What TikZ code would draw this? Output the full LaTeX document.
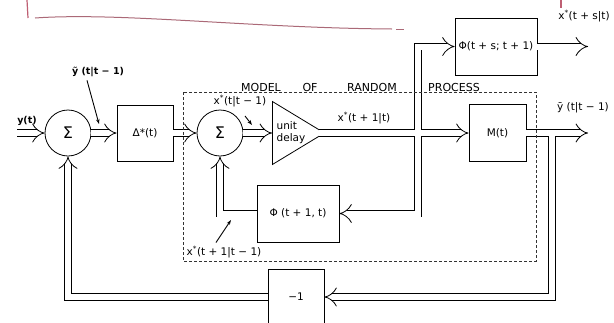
\documentclass[tikz,border=0pt]{standalone}
\usepackage{fontspec}
\setsansfont{DejaVu Sans}
\usetikzlibrary{arrows.meta,shapes.geometric}
\definecolor{scribble}{RGB}{190,95,115}

\begin{document}
\begin{tikzpicture}[
	%Environment config
	x=1pt, y=-1pt,
	font=\sffamily\fontsize{10.5}{12}\selectfont,
	line join=miter,
	%Environment styles
	BlockCfg/.style={
		draw,
		line width=0.8pt,
		inner sep=0pt,
		minimum width=56pt,
		minimum height=56pt
	},
	SumCfg/.style={draw, circle, line width=0.8pt, inner sep=0pt, minimum size=46pt,
		font=\sffamily\fontsize{16}{16}\selectfont},
	PipeCfg/.style={double, double distance=6pt, line width=0.8pt, -{Implies[scale=0.6]}},
	PointerCfg/.style={line width=0.9pt, -{Stealth[length=5pt,width=3.5pt]}},
	TitleCfg/.style={font=\sffamily\fontsize{11}{12}\selectfont, anchor=base, inner sep=1pt}
	]
	\useasboundingbox (0,0) rectangle (614,322);

	% pen marks
	\draw[scribble, line width=1.2pt] (27,0) -- (28,18);
	\draw[scribble!70!gray, line width=1pt] (35,18) .. controls (120,12) and (250,28) .. (392,29);
	\draw[scribble!70!gray, line width=1pt] (396,29) -- (404,29);
	\draw[scribble, line width=1.2pt] (561,0) -- (561,8);

	% blocks
	\node[SumCfg] (SUM1) at (68,133) {Σ};
	\node[BlockCfg] (DELTA) at (145,133) {Δ*(t)};
	\node[SumCfg] (SUM2) at (220,133) {Σ};
	\node[isosceles triangle, isosceles triangle stretches, draw, line width=0.8pt,
		inner sep=0pt, minimum width=63pt, minimum height=52pt, anchor=west] (DELAY) at (272,133) {};
	\node[align=left, inner sep=0pt] (DELAYTXT) at (291,133) {unit\\delay};
	\node[BlockCfg, minimum width=82pt, minimum height=57pt] (PHIS) at (496,46.5) {Φ(t + s; t + 1)};
	\node[BlockCfg, minimum width=57pt, minimum height=57pt] (MT) at (497.5,133) {M(t)};
	\node[BlockCfg, minimum width=82pt, minimum height=57pt] (PHIT) at (298,213.5) {Φ (t + 1, t)};
	\node[BlockCfg] (NEG) at (296,297) {−1};

	\coordinate (YIN) at (17,133);
	\coordinate (SPLIT) at (418,133);
	\coordinate (SPLIT2) at (552,133);
	\coordinate (XSOUT) at (588,46.5);
	\coordinate (YOUT) at (588,133);

	% double signal lines
	\draw[PipeCfg] (YIN) -- (SUM1.west);
	\draw[PipeCfg] (SUM1.east) -- (DELTA.west);
	\draw[PipeCfg] (DELTA.east) -- (SUM2.west);
	\draw[PipeCfg] (SUM2.east) -- (DELAY.west);
	\draw[PipeCfg] ([xshift=-6pt]DELAY.apex) -- (MT.west);
	\draw[PipeCfg] (SPLIT) |- (PHIS.west);
	\draw[PipeCfg] (SPLIT) |- (PHIT.east);
	\draw[PipeCfg] (PHIT.west) -| (SUM2.south);
	\draw[PipeCfg] (PHIS.east) -- (XSOUT);
	\draw[PipeCfg] (MT.east) -- (YOUT);
	\draw[PipeCfg] (SPLIT2) |- (NEG.east);
	\draw[PipeCfg] (NEG.west) -| (SUM1.south);
	\fill[white] (SPLIT) ++(-3.8,-3) rectangle ++(7.6,6);
	\fill[white] (SPLIT2) ++(-3.8,0) rectangle ++(7.6,3);

	% model box
	\draw[dashed, dash pattern=on 3pt off 2pt, line width=0.6pt, black!80] (183,92) rectangle (536,261);
	\node[TitleCfg] (TMODEL) at (261,91) {MODEL};
	\node[TitleCfg] (TOF) at (310,91) {OF};
	\node[TitleCfg] (TRANDOM) at (372,91) {RANDOM};
	\node[TitleCfg] (TPROCESS) at (454,91) {PROCESS};

	% labels
	\node[font=\sffamily\bfseries\fontsize{9.5}{11}\selectfont] (YLBL) at (27,121) {y(t)};
	\node[font=\sffamily\bfseries\fontsize{9.5}{11}\selectfont] (YTLBL) at (98,72) {ỹ (t|t − 1)};
	\node (XTTLBL) at (240,101) {x\textsuperscript{*}(t|t − 1)};
	\node (XT1LBL) at (364,118) {x\textsuperscript{*}(t + 1|t)};
	\node (XSLBL) at (584,16) {x\textsuperscript{*}(t + s|t)};
	\node (YBLBL) at (583,108) {ȳ (t|t − 1)};
	\node (XTMLBL) at (224,252) {x\textsuperscript{*}(t + 1|t − 1)};

	% pointers
	\coordinate (YTTIP) at (99,124);
	\coordinate (XTTTAIL) at (245,116);
	\coordinate (XTTTIP) at (252,125);
	\coordinate (XTMTIP) at (231,220);
	\draw[PointerCfg] ([xshift=-11pt]YTLBL.south) -- (YTTIP);
	\draw[PointerCfg] (XTTTAIL) -- (XTTTIP);
	\draw[PointerCfg] ([xshift=-8pt]XTMLBL.north) -- (XTMTIP);
\end{tikzpicture}
\end{document}
